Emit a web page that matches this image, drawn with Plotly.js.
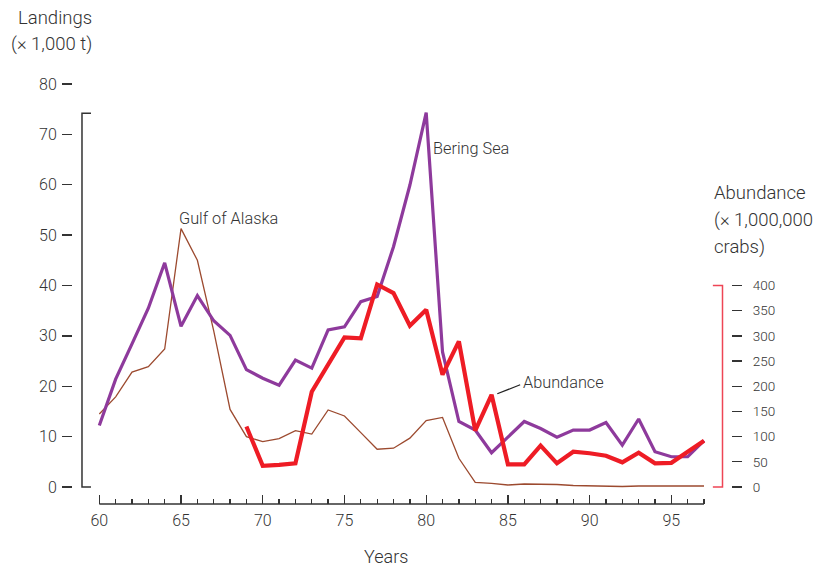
<!DOCTYPE html>
<html><head><meta charset="utf-8">
<script src="https://cdn.plot.ly/plotly-3.0.1.min.js"></script>
<style>body{margin:0;background:#fff}#c{width:817px;height:567px}</style>
</head><body><div id="c"></div>
<script>
const years = [60,61,62,63,64,65,66,67,68,69,70,71,72,73,74,75,76,77,78,79,80,81,82,83,84,85,86,87,88,89,90,91,92,93,94,95,96,97];
const beringSea = [12.2,21.4,28.4,35.5,44.5,31.9,38.0,33.0,30.1,23.3,21.6,20.2,25.2,23.6,31.2,31.8,36.8,37.8,47.7,59.9,74.3,26.8,13.0,11.3,6.8,10.0,13.0,11.6,9.9,11.3,11.3,12.8,8.3,13.5,7.0,6.0,6.0,9.2];
const gulfOfAlaska = [14.5,17.9,22.8,23.9,27.4,51.3,45.0,31.0,15.4,10.0,9.0,9.6,11.2,10.5,15.3,14.1,10.8,7.5,7.7,9.7,13.2,13.8,5.7,0.9,0.7,0.4,0.6,0.6,0.5,0.3,0.2,0.2,0.1,0.2,0.2,0.2,0.3,0.2];
const abundanceYears = [69,70,71,72,73,74,75,76,77,78,79,80,81,82,83,84,85,86,87,88,89,90,91,92,93,94,95,96,97];
const abundance = [120,42,44,47,189,243,297,295,402,385,320,352,223,289,112,183,45,45,82,47,70,67,62,49,68,47,48,70,92];
const leftTicks = [0,10,20,30,40,50,60,70,80];
const rightTicks = [0,50,100,150,200,250,300,350,400];
const majorYears = [60,65,70,75,80,85,90,95];
const minorYears = years.filter(y => y % 5 !== 0);

const FONT = 'Roboto, "Open Sans", sans-serif';
const W = 300;
const TXT = '#333333';
// plot area in pixels: x 73..731, y 80..504
const px = v => (v - 73) / 658;
const py = v => (504 - v) / 424;

const traces = [
  {x: years, y: gulfOfAlaska, type:'scatter', mode:'lines', line:{color:'#9C4A2F', width:1.3}, hoverinfo:'skip'},
  {x: years, y: beringSea, type:'scatter', mode:'lines', line:{color:'#8E3A9C', width:3.2}, hoverinfo:'skip'},
  {x: abundanceYears, y: abundance, yaxis:'y2', type:'scatter', mode:'lines', line:{color:'#EE1C25', width:4.2}, hoverinfo:'skip'}
];

function ann(text, x, y, anchor, size) {
  return {text, xref:'paper', yref:'paper', x:px(x), y:py(y), xanchor:anchor, yanchor:'middle',
    showarrow:false, font:{size, color:TXT, family:FONT, weight:W}};
}

const layout = {
  width: 817, height: 567,
  margin: {l:73, r:86, t:80, b:63},
  paper_bgcolor:'#fff', plot_bgcolor:'rgba(0,0,0,0)',
  showlegend:false,
  font:{family:FONT, color:TXT, size:15, weight:W},
  xaxis:{range:[58.39,98.65], showline:false, zeroline:false, showgrid:false,
    tickmode:'array', tickvals:majorYears, ticktext:majorYears.map(String),
    ticks:'inside', ticklen:9, tickwidth:1.3, tickcolor:TXT, ticklabelstandoff:5,
    tickfont:{size:16, color:TXT, family:FONT, weight:W},
    minor:{tickmode:'array', tickvals:minorYears, ticks:'inside', ticklen:5, tickwidth:1.3, tickcolor:TXT}},
  yaxis:{range:[-3.375,80.794], showline:false, zeroline:false, showgrid:false,
    tickmode:'array', tickvals:leftTicks, ticks:'outside', ticklen:10, tickwidth:1.3, tickcolor:TXT,
    ticklabelstandoff:2, tickfont:{size:16, color:TXT, family:FONT, weight:W}},
  yaxis2:{range:[-33.75,807.94], overlaying:'y', side:'right', anchor:'x', showline:false, zeroline:false, showgrid:false,
    tickmode:'array', tickvals:rightTicks, ticks:'outside', ticklen:10, tickwidth:1.3, tickcolor:TXT,
    ticklabelstandoff:8, tickfont:{size:13.5, color:TXT, family:FONT, weight:W}},
  shapes:[
    {type:'line', xref:'x', yref:'paper', x0:60, x1:97, y0:0, y1:0, line:{color:TXT, width:1.5}},
    {type:'path', xref:'x', yref:'y', path:'M 59.49 74.2 L 58.94 74.2 L 58.94 0 L 59.49 0', line:{color:TXT, width:1.5}},
    {type:'path', xref:'x', yref:'y2', path:'M 97.54 400 L 98.13 400 L 98.13 0 L 97.54 0', line:{color:'#EE4555', width:1.5}},
    {type:'line', xref:'x', yref:'y', x0:84.35, x1:85.75, y0:18.5, y1:20.3, line:{color:'#222', width:1.2}}
  ],
  annotations:[
    ann('Landings', 94, 18, 'right', 18.5),
    ann('(× 1,000 t)', 94, 44, 'right', 18.5),
    ann('Abundance', 712, 193, 'left', 18.5),
    ann('(× 1,000,000', 712, 220, 'left', 18.5),
    ann('crabs)', 712, 247, 'left', 18.5),
    ann('Years', 386, 556, 'center', 18),
    ann('Gulf of Alaska', 177, 218, 'left', 16.3),
    ann('Bering Sea', 431, 148, 'left', 16.3),
    ann('Abundance', 521, 383, 'left', 16.3)
  ]
};
Plotly.newPlot('c', traces, layout, {staticPlot:true, displayModeBar:false});
</script></body></html>
